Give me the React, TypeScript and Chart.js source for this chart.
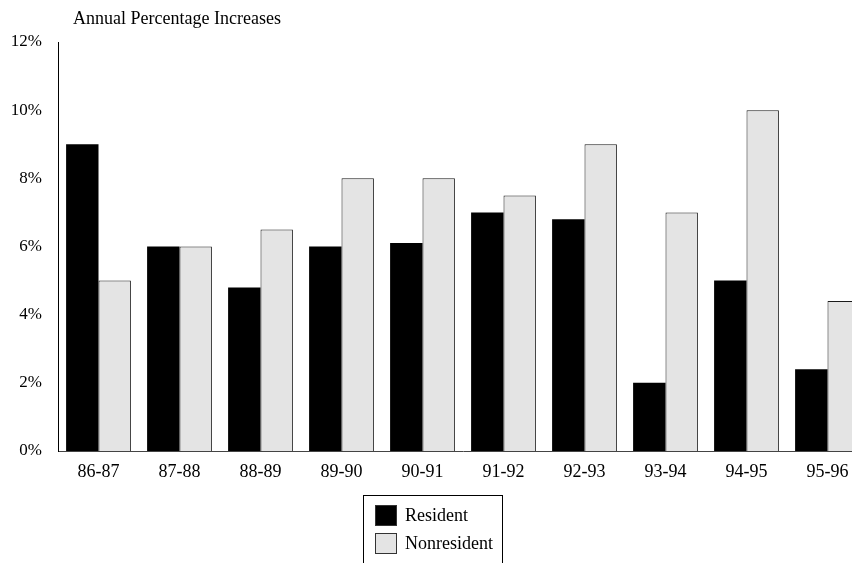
import React, { useEffect, useRef } from "react";
import { Chart, registerables } from "chart.js";

Chart.register(...registerables);

const categories = ["86-87", "87-88", "88-89", "89-90", "90-91", "91-92", "92-93", "93-94", "94-95", "95-96"];
const resident = [9, 6, 4.8, 6, 6.1, 7, 6.8, 2, 5, 2.4];
const nonresident = [5, 6, 6.5, 8, 8, 7.5, 9, 7, 10, 4.4];
const yMin = 0;
const yMax = 12;
const yStep = 2;
const titleText = "Annual Percentage Increases";

const FONT = "'Liberation Serif', 'DejaVu Serif', serif";

const decorPlugin = {
  id: "decor",
  afterDraw(chart: any) {
    const ctx = chart.ctx;
    ctx.save();
    // title
    ctx.fillStyle = "#000";
    ctx.font = `18px ${FONT}`;
    ctx.textAlign = "left";
    ctx.textBaseline = "middle";
    ctx.fillText(titleText, 73, 19);
    // legend
    const bx = 363.5, by = 495.5, bw = 139, bh = 90;
    ctx.strokeStyle = "#000";
    ctx.lineWidth = 1;
    ctx.strokeRect(bx, by, bw, bh);
    chart.data.datasets.forEach((ds: any, i: number) => {
      const sy = 505 + i * 28;
      ctx.fillStyle = ds.backgroundColor;
      ctx.fillRect(375, sy, 21, 20);
      ctx.strokeStyle = "#333";
      ctx.strokeRect(375.5, sy + 0.5, 21, 20);
      ctx.fillStyle = "#000";
      ctx.font = `18px ${FONT}`;
      ctx.textBaseline = "middle";
      ctx.fillText(ds.label, 405, sy + 11);
    });
    ctx.restore();
  },
};

export default function App() {
  const ref = useRef<HTMLCanvasElement>(null);
  useEffect(() => {
    if (!ref.current) return;
    const chart = new Chart(ref.current, {
      type: "bar",
      data: {
        labels: categories,
        datasets: [
          {
            label: "Resident",
            data: resident,
            backgroundColor: "#000000",
            borderColor: "#000000",
            borderWidth: 0,
            categoryPercentage: 0.8,
            barPercentage: 1.0,
          },
          {
            label: "Nonresident",
            data: nonresident,
            backgroundColor: "#e4e4e4",
            borderColor: "#1a1a1a",
            borderWidth: 1,
            categoryPercentage: 0.8,
            barPercentage: 1.0,
          },
        ],
      },
      options: {
        responsive: false,
        animation: false,
        devicePixelRatio: 1,
        layout: { padding: { top: 42, right: 12, bottom: 109, left: 0 } },
        plugins: {
          legend: { display: false },
          title: { display: false },
          tooltip: { enabled: false },
        },
        scales: {
          x: {
            grid: { display: false, drawTicks: false },
            border: { display: true, color: "#444", width: 1 },
            ticks: { color: "#000", font: { family: FONT, size: 18 }, padding: 10, maxRotation: 0 },
            afterFit: (s: any) => { s.height = 40; },
          },
          y: {
            min: yMin,
            max: yMax,
            grid: { display: false, drawTicks: false },
            border: { display: true, color: "#000", width: 1 },
            ticks: {
              stepSize: yStep,
              color: "#000",
              font: { family: FONT, size: 17 },
              padding: 16,
              callback: (v: any) => `${v}%`,
            },
            afterFit: (s: any) => { s.width = 58; },
          },
        },
      },
      plugins: [decorPlugin],
    });
    return () => chart.destroy();
  }, []);
  return (
    <div style={{ position: "fixed", left: 0, top: 0, width: 852, height: 563, overflow: "hidden", background: "#fff" }}>
      <canvas ref={ref} width={880} height={600} style={{ display: "block" }} />
    </div>
  );
}
